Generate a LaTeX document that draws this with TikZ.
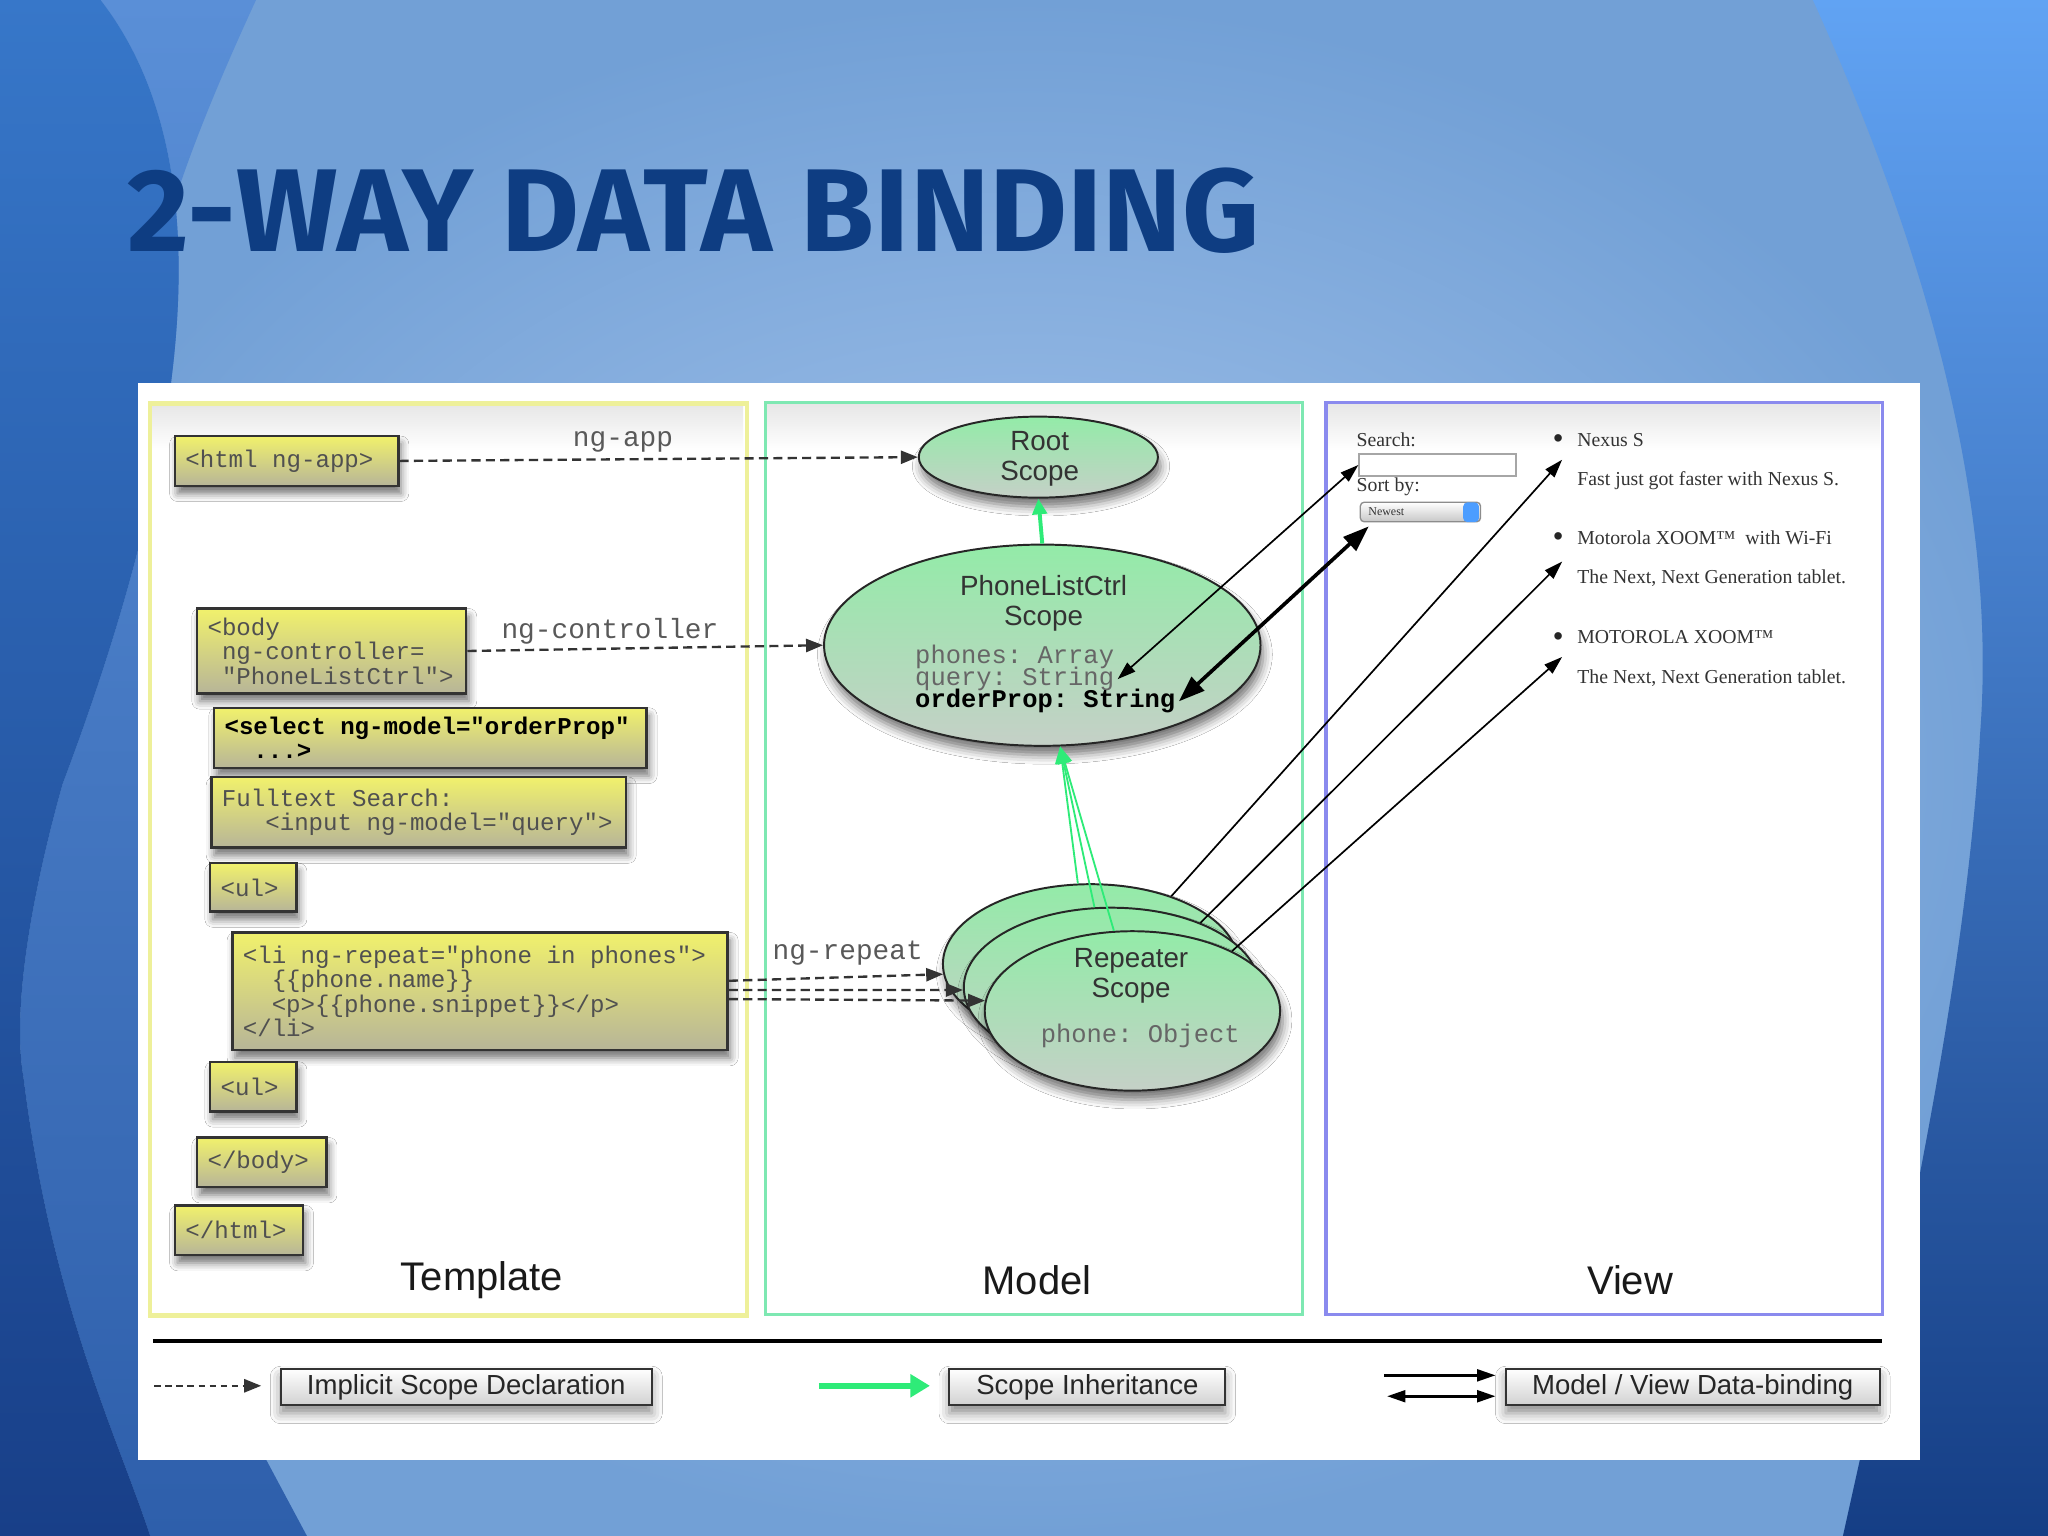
\documentclass[tikz,border=0pt]{standalone}
\usepackage{fontspec}
\setmainfont{Liberation Sans}
\newfontfamily\monof{Liberation Mono}[WordSpace={1,0,0}]
\newfontfamily\serf{Liberation Serif}
\newfontfamily\titlef{Fira Sans}
\usetikzlibrary{shapes.geometric,arrows.meta,shadows.blur}
\definecolor{titleblue}{HTML}{0E3D82}
\definecolor{ylwtop}{HTML}{F1F16C}
\definecolor{ylwbot}{HTML}{B7B598}
\definecolor{grntop}{HTML}{93EBA8}
\definecolor{grnbot}{HTML}{C5D0C7}
\definecolor{inhgreen}{HTML}{2EEB78}
\definecolor{codegray}{HTML}{505050}
\definecolor{bgmid}{HTML}{A8C6EC}
\definecolor{bgout}{HTML}{72A0D6}
\definecolor{rtop}{HTML}{61A3F3}
\definecolor{rbot}{HTML}{153E85}
\definecolor{ltop}{HTML}{3777C9}
\definecolor{lbot}{HTML}{183F88}
\definecolor{mtop}{HTML}{5A8FD7}
\definecolor{mbot}{HTML}{2E5FAB}
\definecolor{tplborder}{HTML}{EEF09A}
\definecolor{mdlborder}{HTML}{7EE8B2}
\definecolor{vwborder}{HTML}{8A8AEE}
\newcommand\tcode{\monof\fontsize{5.25}{5.35}\selectfont}
\newcommand\sclfont{\fontsize{6.05}{6.55}\selectfont}
\newcommand\mcode{\monof\fontsize{5.55}{5}\selectfont}
\newcommand\cnfont{\monof\fontsize{6.05}{7}\selectfont}
\newcommand\vwfont{\serf\fontsize{4.3}{5}\selectfont}
\newcommand\ks{\hphantom{x}}
\tikzset{
  tbox/.style={draw=black!80, line width=0.018cm, top color=ylwtop, bottom color=ylwbot,
    blur shadow={shadow xshift=0.02cm, shadow yshift=-0.06cm, shadow blur radius=0.06cm, shadow opacity=55},
    font=\tcode, text=codegray, inner xsep=0.08cm, inner ysep=0.02cm, anchor=north west, align=left},
  scell/.style={ellipse, draw=black!85, line width=0.015cm, top color=grntop, bottom color=grnbot, inner sep=0,
    blur shadow={shadow xshift=0.02cm, shadow yshift=-0.07cm, shadow blur radius=0.07cm, shadow opacity=55}},
  sclbl/.style={font=\sclfont, text=black!80, align=center, inner sep=0},
  mlbl/.style={font=\mcode, text=black!60, anchor=west, inner sep=0.02cm},
  cnlbl/.style={font=\cnfont, text=black!65, inner sep=0},
  plbl/.style={font=\fontsize{8.7}{10}\selectfont, text=black!90, inner sep=0},
  vwtxt/.style={font=\vwfont, text=black!80, anchor=west, inner sep=0},
  vwbul/.style={font=\fontsize{6}{6}\selectfont, text=black!85, inner sep=0},
  panel/.style={anchor=north west, line width=0.025cm, inner sep=0},
  impl/.style={draw=black!80, line width=0.018cm, dash pattern=on 0.07cm off 0.04cm,
    -{Triangle[length=0.13cm,width=0.1cm]}},
  inh/.style={draw=inhgreen, line width=0.03cm, -{Triangle[length=0.12cm,width=0.11cm]}},
  inhthin/.style={draw=inhgreen, line width=0.014cm, -{Triangle[length=0.13cm,width=0.11cm]}},
  bind/.style={draw=black, line width=0.013cm, {Triangle[length=0.14cm,width=0.09cm]}-{Triangle[length=0.14cm,width=0.09cm]}},
  bindthick/.style={draw=black, line width=0.028cm, {Triangle[length=0.2cm,width=0.14cm]}-{Triangle[length=0.2cm,width=0.14cm]}},
  bindone/.style={draw=black, line width=0.013cm, -{Triangle[length=0.14cm,width=0.09cm]}},
  legbox/.style={draw=black!80, line width=0.015cm, top color=white, bottom color=black!18,
    minimum height=0.28cm, inner sep=0, font=\fontsize{6}{7}\selectfont, text=black!85,
    blur shadow={shadow xshift=0cm, shadow yshift=-0.06cm, shadow blur radius=0.08cm, shadow opacity=45}}
}
\begin{document}
\frenchspacing
\begin{tikzpicture}[x=0.01cm,y=-0.01cm]
\useasboundingbox (0,0) rectangle (1568,1176);
% background
\shade[inner color=bgmid, outer color=bgout] (0,0) rectangle (1568,1176);
\shade[top color=rtop, bottom color=rbot] (1388,0) .. controls (1470,180) and (1530,380) .. (1516,562)
  .. controls (1505,760) and (1450,1000) .. (1411,1176) -- (1568,1176) -- (1568,0) -- cycle;
\shade[top color=mtop, bottom color=mbot] (77,0) -- (196,0) .. controls (150,100) and (110,200) .. (106,293)
  -- (106,1118) -- (204,1118) -- (235,1176) -- (115,1176) .. controls (90,1100) and (40,1000) .. (18,825)
  .. controls (10,780) and (20,700) .. (48,600) .. controls (150,330) and (170,120) .. (77,0) -- cycle;
\shade[top color=ltop, bottom color=lbot] (0,0) -- (77,0) .. controls (170,120) and (150,330) .. (48,600)
  .. controls (20,700) and (10,780) .. (18,825) .. controls (40,1000) and (90,1100) .. (115,1176) -- (0,1176) -- cycle;
% title
\node[anchor=north west, inner sep=0, text=titleblue] (title) at (97,128)
  {\resizebox{8.66cm}{0.64cm}{\titlef\bfseries 2-WAY DATA BINDING}};
% white sheet
\fill[white] (106,293) rectangle (1470,1118);
% panel top shading
\shade[top color=black!10, bottom color=white] (114,308) rectangle (569,345);
\shade[top color=black!10, bottom color=white] (586,308) rectangle (995,345);
\shade[top color=black!10, bottom color=white] (1015,308) rectangle (1439,345);
% panels
\node[panel, draw=tplborder, line width=0.035cm, minimum width=4.57cm, minimum height=6.98cm] (tpl) at (113,307) {};
\node[panel, draw=mdlborder, minimum width=4.11cm, minimum height=6.98cm] (mdl) at (585,307) {};
\node[panel, draw=vwborder, minimum width=4.26cm, minimum height=6.98cm] (vw) at (1014,307) {};
\node[plbl] (tplT) at (369,980) {Template};
\node[plbl] (mdlT) at (794,980) {Model};
\node[plbl] (vwT) at (1248,980) {View};
% template boxes
\node[tbox, text width=1.55cm, minimum height=0.38cm] (html) at (133,333) {<html\ks ng-app>};
\node[tbox, text width=1.90cm, minimum height=0.65cm] (body) at (150,465)
  {<body\\\ks ng-controller=\\\ks "PhoneListCtrl">};
\node[tbox, text width=3.15cm, minimum height=0.46cm, text=black] (sel) at (163,541)
  {\bfseries <select\ks ng-model="orderProp"\\\ks\ks ...>};
\node[tbox, text width=3.01cm, minimum height=0.54cm] (fts) at (161,594)
  {Fulltext\ks Search:\\\ks\ks\ks <input\ks ng-model="query">};
\node[tbox, text width=0.50cm, minimum height=0.37cm] (ul1) at (160,660) {<ul>};
\node[tbox, text width=3.63cm, minimum height=0.90cm] (li) at (177,713)
  {<li\ks ng-repeat="phone\ks in\ks phones">\\\ks\ks \{\{phone.name\}\}\\\ks\ks <p>\{\{phone.snippet\}\}</p>\\</li>};
\node[tbox, text width=0.50cm, minimum height=0.38cm] (ul2) at (160,812) {<ul>};
\node[tbox, text width=0.83cm, minimum height=0.38cm] (cbody) at (150,870) {</body>};
\node[tbox, text width=0.82cm, minimum height=0.38cm] (chtml) at (133,922) {</html>};
% scopes
\node[scell, minimum width=1.83cm, minimum height=0.62cm] (root) at (795,350) {};
\node[scell, minimum width=3.34cm, minimum height=1.54cm] (plc) at (798,494) {};
\node[scell, minimum width=2.26cm, minimum height=1.22cm] (rb) at (835,738) {};
\node[scell, minimum width=2.26cm, minimum height=1.22cm] (rm) at (851,756) {};
\node[scell, minimum width=2.26cm, minimum height=1.22cm] (rf) at (867,774) {};
\node[sclbl] (rootT) at (796,351) {Root\\Scope};
\node[sclbl] (plcT) at (799,462) {PhoneListCtrl\\Scope};
\node[mlbl] (phn) at (698,503) {phones:\ks Array};
\node[mlbl] (qry) at (698,520) {query:\ks String};
\node[mlbl, text=black] (ord) at (698,537) {\bfseries orderProp:\ks String};
\node[sclbl] (rfT) at (866,747) {Repeater\\Scope};
\node[mlbl, anchor=center] (rfo) at (873,793) {phone:\ks Object};
% implicit scope declarations
\draw[impl] (html.east) -- (root.west);
\draw[impl] (body.east) -- (plc.west);
\draw[impl] ([yshift=0.08cm]li.east) -- (rb.184);
\draw[impl] ([yshift=0.01cm]li.east) -- (rm.181);
\draw[impl] ([yshift=-0.06cm]li.east) -- (rf.176);
\node[cnlbl] (lapp) at (477,338) {ng-app};
\node[cnlbl] (lctl) at (467,483) {ng-controller};
\node[cnlbl] (lrep) at (649,730) {ng-repeat};
% inheritance
\draw[inh] (plc.north) -- (root.south);
\draw[inhthin] (rb.99) -- (plc.280);
\draw[inhthin] (rm.102) -- (plc.280);
\draw[inhthin] (rf.103) -- (plc.280);
% view contents
\node[vwtxt] (vSearch) at (1038,337) {Search:};
\node[draw=black!35, line width=0.01cm, fill=white, minimum width=1.2cm, minimum height=0.17cm, inner sep=0, anchor=north west] (sIn) at (1040,347) {};
\node[vwtxt] (vSort) at (1038,373) {Sort by:};
\node[draw=black!45, line width=0.01cm, rounded corners=0.03cm, top color=white, bottom color=black!22, minimum width=0.92cm, minimum height=0.15cm, inner sep=0, anchor=north west] (sSel) at (1041,384) {};
\node[fill=blue!55!cyan!70, rounded corners=0.03cm, minimum width=0.12cm, minimum height=0.15cm, inner sep=0, anchor=north east] (sStep) at (1133,384) {};
\node[vwtxt, font=\serf\fontsize{2.6}{3}\selectfont] (sNew) at (1047,391.5) {Newest};
\coordinate (selTip) at (1048,403);
\node[vwbul] (b1) at (1193,338) {•};
\node[vwtxt] (i1) at (1207,337) {Nexus S};
\node[vwtxt] (d1) at (1207,368) {Fast just got faster with Nexus S.};
\node[vwbul] (b2) at (1193,413) {•};
\node[vwtxt] (i2) at (1207,412) {Motorola XOOM™\ \ with Wi-Fi};
\node[vwtxt] (d2) at (1207,443) {The Next, Next Generation tablet.};
\node[vwbul] (b3) at (1193,489) {•};
\node[vwtxt] (i3) at (1207,488) {MOTOROLA XOOM™};
\node[vwtxt] (d3) at (1207,519) {The Next, Next Generation tablet.};
\coordinate (it1) at (1196,352);
\coordinate (it2) at (1196,430);
\coordinate (it3) at (1196,503);
% data binding
\draw[bind] (qry.east) -- (sIn.west);
\draw[bindthick] (ord.east) -- (selTip);
\draw[bindone] (rb.40) -- (it1);
\draw[bindone] (rm.36) -- (it2);
\draw[bindone] (rf.31) -- (it3);
% legend
\coordinate (hl1) at (117,1027);
\coordinate (hl2) at (1441,1027);
\draw[line width=0.03cm] (hl1) -- (hl2);
\coordinate (l1a) at (118,1061);
\coordinate (l1b) at (200,1061);
\draw[impl, dash pattern=on 0.05cm off 0.035cm] (l1a) -- (l1b);
\node[legbox, minimum width=2.84cm] (lb1) at (357,1062) {Implicit Scope Declaration};
\coordinate (l2a) at (627,1061);
\coordinate (l2b) at (712,1061);
\draw[draw=inhgreen, line width=0.05cm, -{Triangle[length=0.15cm,width=0.17cm]}] (l2a) -- (l2b);
\node[legbox, minimum width=2.11cm] (lb2) at (832.5,1062) {Scope Inheritance};
\coordinate (l3a) at (1060,1053);
\coordinate (l3b) at (1145,1053);
\coordinate (l3c) at (1062,1069);
\coordinate (l3d) at (1145,1069);
\draw[bindone, line width=0.02cm] (l3a) -- (l3b);
\draw[bind, line width=0.02cm] (l3c) -- (l3d);
\node[legbox, minimum width=2.86cm] (lb3) at (1296,1062) {Model / View Data-binding};
\end{tikzpicture}
\end{document}
